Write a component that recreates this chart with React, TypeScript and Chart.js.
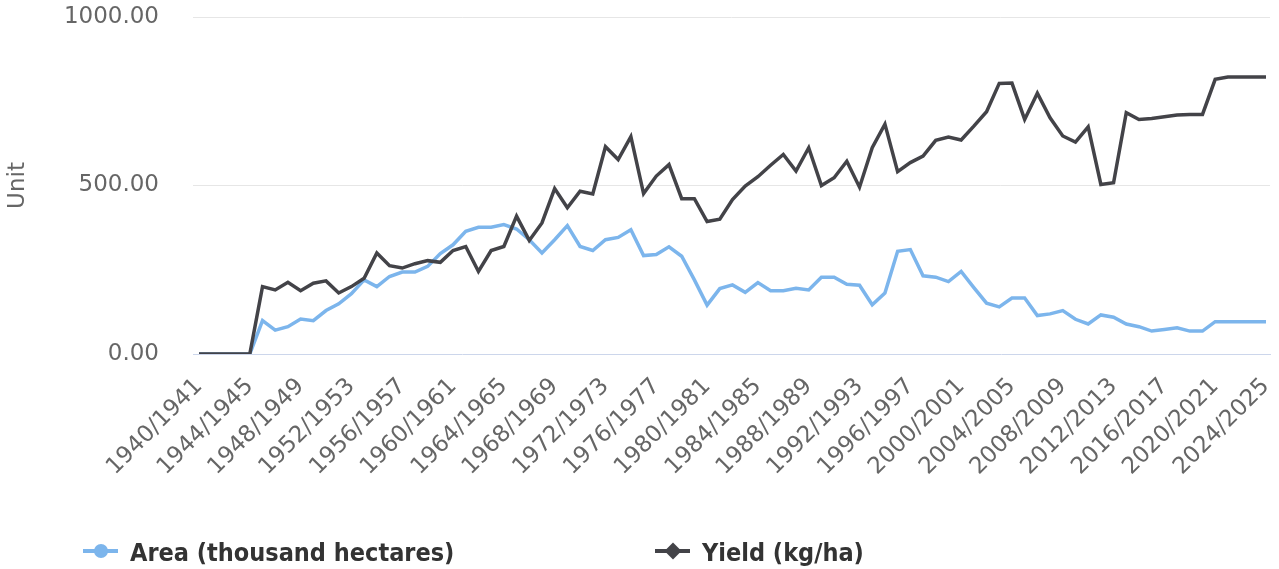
import React, { useEffect, useRef } from "react";
import { Chart, registerables } from "chart.js";

Chart.register(...registerables);

const START_YEARS: number[] = Array.from({ length: 85 }, (_, i) => 1940 + i);
const SEASONS: string[] = START_YEARS.map((y) => `${y}/${y + 1}`);

const AREA: number[] = [
  0, 0, 0, 0, 0, 99, 71, 81, 104, 99,
  129, 149, 179, 220, 200, 230, 243, 243, 260, 298,
  324, 364, 376, 376, 384, 371, 339, 300, 339, 381,
  319, 307, 339, 346, 369, 292, 295, 318, 290, 220,
  145, 194, 205, 183, 212, 188, 188, 195, 190, 228,
  228, 207, 204, 146, 181, 305, 310, 232, 228, 215,
  245, 197, 151, 140, 166, 166, 114, 119, 129, 103,
  89, 116, 109, 89, 81, 68, 73, 78, 68, 68,
  96, 96, 96, 96, 96,
];

const YIELD: number[] = [
  0, 0, 0, 0, 0, 200, 190, 213, 188, 210,
  217, 181, 200, 225, 300, 262, 255, 268, 277, 272,
  307, 319, 245, 307, 319, 409, 337, 389, 491, 434,
  483, 475, 615, 577, 645, 476, 528, 562, 461, 461,
  393, 400, 458, 498, 526, 560, 592, 543, 612, 500,
  523, 572, 495, 612, 682, 541, 568, 587, 634, 644,
  635, 676, 719, 803, 804, 696, 774, 701, 647, 629,
  674, 503, 508, 716, 696, 699, 704, 709, 711, 711,
  815, 822, 822, 822, 822,
];

const X_TICK_INDICES: number[] = SEASONS.map((_, i) => i).filter((i) => i % 4 === 0);
const Y_TICKS: number[] = [0, 500, 1000];

const SERIES_NAMES = ["Area (thousand hectares)", "Yield (kg/ha)"];
const COLORS = ["#7cb5ec", "#434348"];

const FONT = '"DejaVu Sans", sans-serif';

export default function App() {
  const ref = useRef<HTMLCanvasElement | null>(null);

  useEffect(() => {
    if (!ref.current) return;
    const chart = new Chart(ref.current, {
      type: "line",
      data: {
        datasets: [
          {
            label: SERIES_NAMES[0],
            data: AREA.map((v, i) => ({ x: i, y: v })),
            borderColor: COLORS[0],
            backgroundColor: COLORS[0],
            borderWidth: 3.5,
            pointRadius: 0,
            tension: 0,
            order: 1,
          },
          {
            label: SERIES_NAMES[1],
            data: YIELD.map((v, i) => ({ x: i, y: v })),
            borderColor: COLORS[1],
            backgroundColor: COLORS[1],
            borderWidth: 3.5,
            pointRadius: 0,
            tension: 0,
            order: 0,
          },
        ],
      },
      options: {
        responsive: false,
        animation: false,
        devicePixelRatio: 1,
        layout: { padding: { left: 0, right: 9, top: 17, bottom: 0 } },
        plugins: {
          legend: { display: false },
          tooltip: { enabled: false },
        },
        scales: {
          x: {
            type: "linear",
            min: -0.472,
            max: 84.315,
            afterBuildTicks: (scale: any) => {
              scale.ticks = X_TICK_INDICES.map((v) => ({ value: v }));
            },
            afterFit: (scale: any) => {
              scale.height = 569 - 354;
              scale.paddingRight = 0;
              scale.paddingLeft = 0;
            },
            grid: { display: false },
            border: { display: true, color: "#ccd6eb", width: 1 },
            ticks: {
              autoSkip: false,
              minRotation: 45,
              maxRotation: 45,
              padding: 11,
              color: "#666666",
              font: { family: FONT, size: 23 },
              callback: (v: any) => SEASONS[Number(v)] ?? "",
            },
          },
          y: {
            min: 0,
            max: 1000,
            afterBuildTicks: (scale: any) => {
              scale.ticks = Y_TICKS.map((v) => ({ value: v }));
            },
            afterFit: (scale: any) => {
              scale.width = 193;
              scale.paddingTop = 0;
              scale.paddingBottom = 0;
            },
            border: { display: false },
            grid: {
              color: (ctx: any) => (ctx.tick && ctx.tick.value === 0 ? "rgba(0,0,0,0)" : "#e6e6e6"),
              lineWidth: 1,
              drawTicks: false,
            },
            ticks: {
              padding: 34,
              color: "#666666",
              font: { family: FONT, size: 23 },
              callback: (v: any) => Number(v).toFixed(2),
            },
            title: {
              display: true,
              text: "Unit",
              color: "#666666",
              font: { family: FONT, size: 23 },
              padding: { top: 4, bottom: 4 },
            },
          },
        },
      },
    });
    return () => chart.destroy();
  }, []);

  const legendText: React.CSSProperties = {
    position: "absolute",
    top: 540,
    fontFamily: '"DejaVu Sans Condensed", "DejaVu Sans", sans-serif',
    fontStretch: "condensed",
    fontWeight: "bold",
    fontSize: 25,
    lineHeight: "25px",
    color: "#333333",
    whiteSpace: "nowrap",
  };

  return (
    <div
      style={{
        position: "fixed",
        left: 0,
        top: 0,
        width: 1279,
        height: 569,
        background: "#ffffff",
        overflow: "hidden",
      }}
    >
      <canvas ref={ref} width={1279} height={569} style={{ display: "block", width: 1279, height: 569 }} />
      <div style={{ position: "absolute", left: 83, top: 549, width: 35, height: 4, background: COLORS[0] }} />
      <div
        style={{
          position: "absolute",
          left: 94,
          top: 544,
          width: 14,
          height: 14,
          borderRadius: "50%",
          background: COLORS[0],
        }}
      />
      <div style={{ ...legendText, left: 130 }}>{SERIES_NAMES[0]}</div>
      <div style={{ position: "absolute", left: 655, top: 549, width: 35, height: 4, background: COLORS[1] }} />
      <div
        style={{
          position: "absolute",
          left: 667,
          top: 545,
          width: 12,
          height: 12,
          transform: "rotate(45deg)",
          background: COLORS[1],
        }}
      />
      <div style={{ ...legendText, left: 702 }}>{SERIES_NAMES[1]}</div>
    </div>
  );
}
